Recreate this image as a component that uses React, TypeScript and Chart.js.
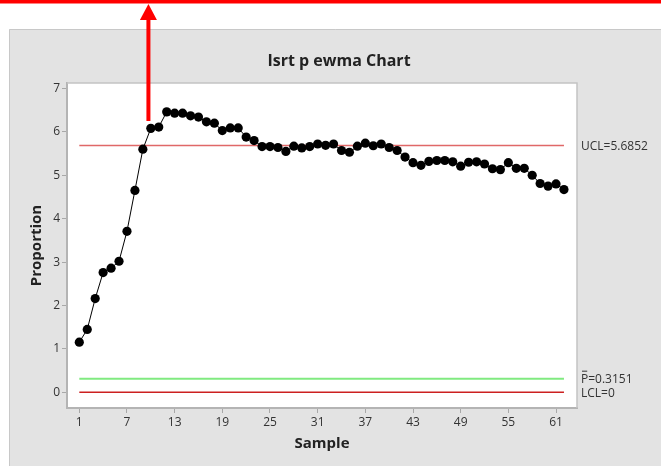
import { useEffect, useRef } from "react";
import { Chart, registerables } from "chart.js";

Chart.register(...registerables);

const samples = [
  1, 2, 3, 4, 5, 6, 7, 8, 9, 10, 11, 12, 13, 14, 15, 16, 17, 18, 19, 20, 21,
  22, 23, 24, 25, 26, 27, 28, 29, 30, 31, 32, 33, 34, 35, 36, 37, 38, 39, 40,
  41, 42, 43, 44, 45, 46, 47, 48, 49, 50, 51, 52, 53, 54, 55, 56, 57, 58, 59,
  60, 61, 62,
];
const proportions = [
  1.155, 1.45, 2.16, 2.76, 2.86, 3.02, 3.71, 4.65, 5.6, 6.08, 6.11, 6.46, 6.43,
  6.43, 6.37, 6.34, 6.23, 6.2, 6.03, 6.09, 6.09, 5.88, 5.8, 5.66, 5.66, 5.64,
  5.55, 5.67, 5.63, 5.66, 5.72, 5.69, 5.72, 5.57, 5.53, 5.67, 5.74, 5.68, 5.72,
  5.64, 5.57, 5.42, 5.29, 5.23, 5.32, 5.34, 5.34, 5.31, 5.21, 5.3, 5.31, 5.26,
  5.15, 5.13, 5.29, 5.16, 5.16, 5.0, 4.81, 4.75, 4.8, 4.67,
];
const xTickValues = [1, 7, 13, 19, 25, 31, 37, 43, 49, 55, 61];
const yTickValues = [0, 1, 2, 3, 4, 5, 6, 7];
const UCL = 5.6852;
const PBAR = 0.3151;
const LCL = 0;
const firstSample = 1;
const lastSample = 62;
const arrowSample = 9.7;

const FONT = "'Open Sans', 'Noto Sans', sans-serif";

const decorPlugin = {
  id: "decor",
  beforeDraw(chart: any) {
    const { ctx, chartArea: a } = chart;
    const W = chart.width;
    const H = chart.height;
    ctx.save();
    ctx.fillStyle = "#ffffff";
    ctx.fillRect(0, 0, W, H);
    ctx.fillStyle = "#e3e3e3";
    ctx.fillRect(9, 29, W, H);
    ctx.strokeStyle = "#c8c8c8";
    ctx.lineWidth = 1;
    ctx.beginPath();
    ctx.moveTo(9.5, H);
    ctx.lineTo(9.5, 29.5);
    ctx.lineTo(W, 29.5);
    ctx.stroke();
    ctx.fillStyle = "#ffffff";
    ctx.fillRect(a.left, a.top, a.right - a.left, a.bottom - a.top);
    ctx.restore();
  },
  afterDraw(chart: any) {
    const { ctx, chartArea: a, scales } = chart;
    const W = chart.width;
    const ys = scales.y;
    const xs = scales.x;
    ctx.save();
    // plot frame top/right
    ctx.strokeStyle = "#c4c4c4";
    ctx.lineWidth = 1.5;
    ctx.beginPath();
    ctx.moveTo(a.left, a.top);
    ctx.lineTo(a.right, a.top);
    ctx.lineTo(a.right, a.bottom);
    ctx.stroke();

    // title
    ctx.fillStyle = "#222222";
    ctx.font = `bold 16px ${FONT}`;
    ctx.textAlign = "center";
    ctx.textBaseline = "middle";
    ctx.fillText("Isrt p ewma Chart", 339, 61);

    // axis titles
    ctx.font = `bold 15px ${FONT}`;
    ctx.fillText("Sample", (a.left + a.right) / 2, 444);
    ctx.save();
    ctx.translate(37, (a.top + a.bottom) / 2);
    ctx.rotate(-Math.PI / 2);
    ctx.fillText("Proportion", 0, 0);
    ctx.restore();

    // control limit labels
    ctx.font = `12px ${FONT}`;
    ctx.fillStyle = "#333333";
    ctx.textAlign = "left";
    const lx = a.right + 4;
    ctx.fillText("UCL=5.6852", lx, ys.getPixelForValue(UCL) + 1);
    const py = ys.getPixelForValue(PBAR) + 1;
    ctx.fillText("P=0.3151", lx, py);
    const pw = ctx.measureText("P").width;
    ctx.strokeStyle = "#333333";
    ctx.lineWidth = 1;
    ctx.beginPath();
    ctx.moveTo(lx + 1, py - 8.5);
    ctx.lineTo(lx + pw - 1, py - 8.5);
    ctx.stroke();
    ctx.fillText("LCL=0", lx, ys.getPixelForValue(LCL) + 1);

    // red top line
    ctx.fillStyle = "#ff0000";
    ctx.fillRect(0, 0, W, 3.5);

    // red arrow
    const ax = xs.getPixelForValue(arrowSample);
    ctx.fillRect(ax - 2, 18, 4, 103);
    ctx.beginPath();
    ctx.moveTo(ax, 4);
    ctx.lineTo(ax - 8.5, 20);
    ctx.lineTo(ax + 8.5, 20);
    ctx.closePath();
    ctx.fill();
    ctx.restore();
  },
};

export default function App() {
  const ref = useRef<HTMLCanvasElement | null>(null);
  useEffect(() => {
    if (!ref.current) return;
    const limitLine = (v: number) => [
      { x: firstSample, y: v },
      { x: lastSample, y: v },
    ];
    const chart = new Chart(ref.current, {
      type: "line",
      data: {
        datasets: [
          {
            data: samples.map((s, i) => ({ x: s, y: proportions[i] })),
            borderColor: "#000000",
            borderWidth: 1,
            pointRadius: 4.6,
            pointBackgroundColor: "#000000",
            pointBorderColor: "#000000",
            pointBorderWidth: 0,
          },
          {
            data: limitLine(UCL),
            borderColor: "#e06868",
            borderWidth: 1.5,
            pointRadius: 0,
          },
          {
            data: limitLine(PBAR),
            borderColor: "#80ea80",
            borderWidth: 2,
            pointRadius: 0,
          },
          {
            data: limitLine(LCL),
            borderColor: "#cc2020",
            borderWidth: 1.5,
            pointRadius: 0,
          },
        ],
      },
      options: {
        responsive: false,
        animation: false,
        events: [],
        layout: { padding: { top: 83, right: 84, left: 0, bottom: 0 } },
        plugins: {
          legend: { display: false },
          tooltip: { enabled: false },
          title: { display: false },
        },
        scales: {
          x: {
            type: "linear",
            min: -0.548,
            max: 63.64,
            afterFit: (s: any) => {
              s.height = 58;
            },
            afterBuildTicks: (s: any) => {
              s.ticks = xTickValues.map((v) => ({ value: v }));
            },
            grid: {
              drawOnChartArea: false,
              drawTicks: true,
              tickLength: 5,
              color: "#a8a8a8",
              tickWidth: 1,
            },
            border: { color: "#b4b4b4", width: 2 },
            ticks: {
              autoSkip: false,
              maxRotation: 0,
              padding: 2,
              color: "#333333",
              font: { family: FONT, size: 12 },
            },
          },
          y: {
            type: "linear",
            min: -0.36,
            max: 7.125,
            afterFit: (s: any) => {
              s.width = 67;
            },
            afterBuildTicks: (s: any) => {
              s.ticks = yTickValues.map((v) => ({ value: v }));
            },
            grid: {
              drawOnChartArea: false,
              drawTicks: true,
              tickLength: 5,
              color: "#a8a8a8",
              tickWidth: 1,
            },
            border: { color: "#b4b4b4", width: 2 },
            ticks: {
              padding: 2,
              color: "#333333",
              font: { family: FONT, size: 12 },
            },
          },
        },
      },
      plugins: [decorPlugin],
    } as any);
    return () => chart.destroy();
  }, []);
  return (
    <div style={{ position: "fixed", left: 0, top: 0, width: 661, height: 466 }}>
      <canvas ref={ref} width={661} height={466} style={{ width: 661, height: 466, display: "block" }} />
    </div>
  );
}
